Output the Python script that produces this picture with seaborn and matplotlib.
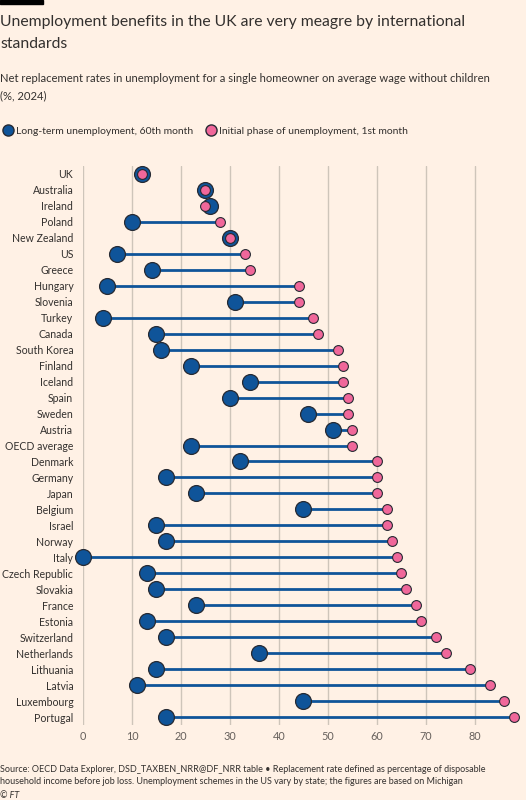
import matplotlib
matplotlib.use('Agg')
from matplotlib import pyplot as plt
from matplotlib.lines import Line2D
import seaborn as sns
import pandas as pd

countries = ['UK', 'Australia', 'Ireland', 'Poland', 'New Zealand', 'US', 'Greece', 'Hungary',
             'Slovenia', 'Turkey', 'Canada', 'South Korea', 'Finland', 'Iceland', 'Spain', 'Sweden',
             'Austria', 'OECD average', 'Denmark', 'Germany', 'Japan', 'Belgium', 'Israel', 'Norway',
             'Italy', 'Czech Republic', 'Slovakia', 'France', 'Estonia', 'Switzerland', 'Netherlands',
             'Lithuania', 'Latvia', 'Luxembourg', 'Portugal']
long_term = [12, 25, 26, 10, 30, 7, 14, 5, 31, 4, 15, 16, 22, 34, 30, 46,
             51, 22, 32, 17, 23, 45, 15, 17, 0, 13, 15, 23, 13, 17, 36,
             15, 11, 45, 17]
initial = [12, 25, 25, 28, 30, 33, 34, 44, 44, 47, 48, 52, 53, 53, 54, 54,
           55, 55, 60, 60, 60, 62, 62, 63, 64, 65, 66, 68, 69, 72, 74,
           79, 83, 86, 88]
xticks = [0, 10, 20, 30, 40, 50, 60, 70, 80]

BG = '#FFF1E5'
BLUE = '#0F5499'
PINK = '#F0679A'
EDGE = '#262A33'
TXT = '#33302E'
GREY = '#66605C'

df = pd.DataFrame({'country': countries, 'long': long_term, 'init': initial})

sns.set_theme(style='white')
plt.rcParams['font.family'] = ['Lato', 'DejaVu Sans']

fig = plt.figure(figsize=(5.26, 8), dpi=100, facecolor=BG)
ax = fig.add_axes([83 / 526, 0.09375, 436 / 526, 0.69875], facecolor=BG)

for x in xticks:
    ax.axvline(x, color='#CEC5BA', lw=1, zorder=0)

ax.hlines(df['country'], df['long'], df['init'], color=BLUE, lw=2, zorder=1)
sns.scatterplot(data=df, x='long', y='country', ax=ax, s=130, color=BLUE,
                edgecolor=EDGE, linewidth=0.9, zorder=2, clip_on=False)
sns.scatterplot(data=df, x='init', y='country', ax=ax, s=50, color=PINK,
                edgecolor=EDGE, linewidth=0.8, zorder=3, clip_on=False)

ax.set_xlim(0, 89)
ax.set_ylim(len(countries) - 0.5, -0.5)
ax.set_xticks(xticks)
ax.set_xlabel('')
ax.set_ylabel('')
for s in ax.spines.values():
    s.set_visible(False)
ax.tick_params(axis='both', length=0, labelsize=7.8, colors=GREY, pad=4)
ax.tick_params(axis='y', labelsize=7.6, colors=TXT, pad=7)

# black bar top left
fig.patches.append(plt.Rectangle((0, 1 - 4 / 800), 43 / 526, 4 / 800, transform=fig.transFigure,
                                 color='black', zorder=5))


def line(y, s, size, **kw):
    fig.text(0, 1 - y / 800, s, fontsize=size, color=TXT, va='center', **kw)


line(22, 'Unemployment benefits in the UK are very meagre by international', 11.3)
line(44, 'standards', 11.3)
line(79, 'Net replacement rates in unemployment for a single homeowner on average wage without children', 8.1)
line(96, '(%, 2024)', 8.1)

handles = [Line2D([], [], marker='o', ls='', color=BLUE, markeredgecolor=EDGE, markersize=8,
                  label='Long-term unemployment, 60th month'),
           Line2D([], [], marker='o', ls='', color=PINK, markeredgecolor=EDGE, markersize=8,
                  label='Initial phase of unemployment, 1st month')]
fig.legend(handles=handles, loc='center left', bbox_to_anchor=(-0.012, 1 - 131 / 800), ncol=2,
           frameon=False, fontsize=7.5, handletextpad=0.25, columnspacing=1.2, handlelength=1,
           labelcolor=TXT)

line(769, 'Source: OECD Data Explorer, DSD_TAXBEN_NRR@DF_NRR table \u2022 Replacement rate defined as percentage of disposable', 6.5)
line(782, 'household income before job loss. Unemployment schemes in the US vary by state; the figures are based on Michigan', 6.5)
line(795, '\u00a9 FT', 6.5, style='italic')

fig.savefig('out.png', dpi=100, facecolor=BG)
